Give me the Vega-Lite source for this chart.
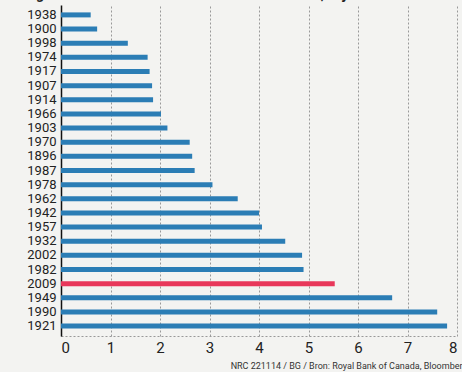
{
  "$schema": "https://vega.github.io/schema/vega-lite/v6.json",
  "width": 396,
  "height": 331,
  "autosize": {"type": "none"},
  "padding": {"left": 61, "top": 5, "right": 5, "bottom": 36},
  "background": "#f3f3f1",
  "title": {
    "text": "Lengte van bull markets van de Dow Jones-index, in jaren",
    "anchor": "start",
    "frame": "group",
    "offset": 3,
    "dx": -48,
    "fontSize": 14,
    "font": "Roboto",
    "fontWeight": "bold",
    "color": "#222"
  },
  "data": {
    "values": [
      {"jaar": "1938", "jaren": 0.6, "groep": "overig"},
      {"jaar": "1900", "jaren": 0.73, "groep": "overig"},
      {"jaar": "1998", "jaren": 1.35, "groep": "overig"},
      {"jaar": "1974", "jaren": 1.75, "groep": "overig"},
      {"jaar": "1917", "jaren": 1.79, "groep": "overig"},
      {"jaar": "1907", "jaren": 1.84, "groep": "overig"},
      {"jaar": "1914", "jaren": 1.86, "groep": "overig"},
      {"jaar": "1966", "jaren": 2.02, "groep": "overig"},
      {"jaar": "1903", "jaren": 2.15, "groep": "overig"},
      {"jaar": "1970", "jaren": 2.6, "groep": "overig"},
      {"jaar": "1896", "jaren": 2.65, "groep": "overig"},
      {"jaar": "1987", "jaren": 2.7, "groep": "overig"},
      {"jaar": "1978", "jaren": 3.06, "groep": "overig"},
      {"jaar": "1962", "jaren": 3.57, "groep": "overig"},
      {"jaar": "1942", "jaren": 4.0, "groep": "overig"},
      {"jaar": "1957", "jaren": 4.06, "groep": "overig"},
      {"jaar": "1932", "jaren": 4.53, "groep": "overig"},
      {"jaar": "2002", "jaren": 4.87, "groep": "overig"},
      {"jaar": "1982", "jaren": 4.9, "groep": "overig"},
      {"jaar": "2009", "jaren": 5.53, "groep": "huidig"},
      {"jaar": "1949", "jaren": 6.69, "groep": "overig"},
      {"jaar": "1990", "jaren": 7.6, "groep": "overig"},
      {"jaar": "1921", "jaren": 7.8, "groep": "overig"}
    ]
  },
  "mark": {"type": "bar", "size": 5},
  "encoding": {
    "y": {
      "field": "jaar",
      "type": "nominal",
      "sort": null,
      "scale": {"paddingInner": 0.6, "paddingOuter": 0.5},
      "axis": {
        "title": null,
        "ticks": false,
        "labelPadding": 5,
        "labelFontSize": 13,
        "labelFont": "Roboto",
        "labelColor": "#222",
        "labelOverlap": false,
        "domainColor": "#111",
        "domainWidth": 1.5,
        "grid": false
      }
    },
    "x": {
      "field": "jaren",
      "type": "quantitative",
      "scale": {"domain": [0, 8], "nice": false},
      "axis": {
        "values": [0, 1, 2, 3, 4, 5, 6, 7, 8],
        "title": "NRC 221114 / BG / Bron: Royal Bank of Canada, Bloomberg",
        "titleAnchor": "end",
        "titleAlign": "right",
        "titleX": 406,
        "titleY": 32,
        "titleBaseline": "alphabetic",
        "titleFontSize": 9,
        "titleFontWeight": "normal",
        "titleFont": "Roboto",
        "titleColor": "#333",
        "ticks": false,
        "labelPadding": 4,
        "labelFontSize": 15,
        "labelFont": "Roboto",
        "labelColor": "#222",
        "domainColor": "#999",
        "domainDash": [2, 2],
        "domainWidth": 1,
        "grid": true,
        "gridColor": "#999",
        "gridDash": [2, 2],
        "gridWidth": 1
      }
    },
    "color": {
      "field": "groep",
      "type": "nominal",
      "scale": {"domain": ["overig", "huidig"], "range": ["#2b7db5", "#e8375a"]},
      "legend": null
    }
  },
  "config": {"view": {"stroke": null}}
}
